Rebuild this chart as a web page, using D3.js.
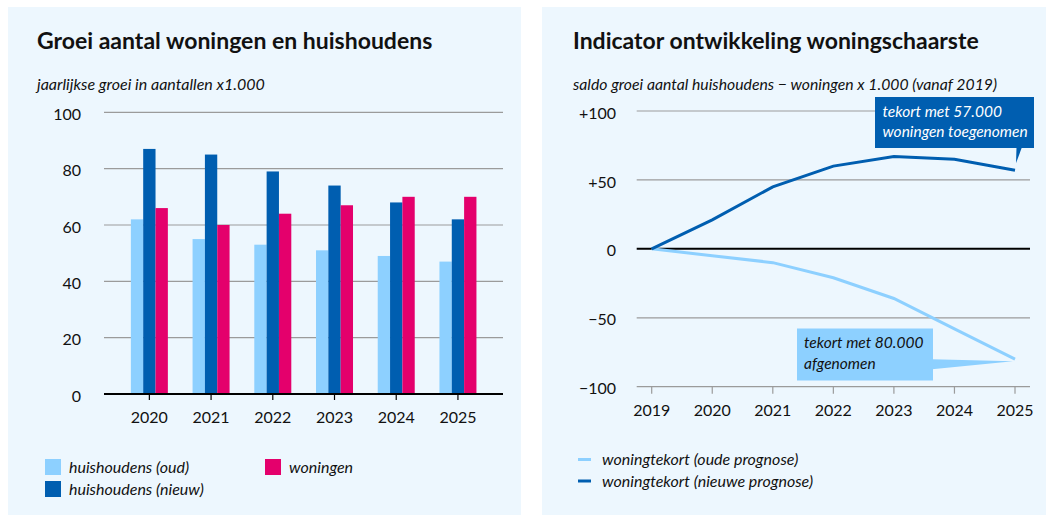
<!DOCTYPE html>
<html><head><meta charset="utf-8">
<script src="https://cdn.jsdelivr.net/npm/d3@7"></script>
<style>
body{margin:0;background:#fff}
text{font-family:Lato,'Open Sans',sans-serif;fill:#111}
</style>
</head><body>
<svg id="c" width="1046" height="515"></svg>
<script>
// ---- data: left chart ----
const years = ["2020","2021","2022","2023","2024","2025"];
const huishoudensOud = [62,55,53,51,49,47];
const huishoudensNieuw = [87,85,79,74,68,62];
const woningen = [66,60,64,67,70,70];
const barTicks = [0,20,40,60,80,100];
const barSeriesNames = ["huishoudens (oud)","huishoudens (nieuw)","woningen"];

// ---- data: right chart ----
const lineYears = ["2019","2020","2021","2022","2023","2024","2025"];
const tekortOud = [0,-5,-10,-21,-36,-58,-80];
const tekortNieuw = [0,21,45,60,67,65,57];
const lineTicks = [-100,-50,0,50,100];
const lineTickLabels = ["\u2212100","\u221250","0","+50","+100"];
const lineSeriesNames = ["woningtekort (oude prognose)","woningtekort (nieuwe prognose)"];

const C_LIGHT = "#8dd0ff", C_DARK = "#005eb0", C_PINK = "#e4006c", BG = "#edf7fe", GRID = "#9b9b9b";

const svg = d3.select("#c");
svg.append("rect").attr("x",8).attr("y",7).attr("width",513).attr("height",508).attr("fill",BG);
svg.append("rect").attr("x",542).attr("y",7).attr("width",504).attr("height",508).attr("fill",BG);

// ================= LEFT =================
const L = svg.append("g");
L.append("text").attr("x",37).attr("y",49).attr("font-size",23).attr("font-weight",700).text("Groei aantal woningen en huishoudens");
L.append("text").attr("x",37).attr("y",90).attr("font-size",16).attr("font-style","italic").text("jaarlijkse groei in aantallen x1.000");

const xB = d3.scaleBand().domain(years).range([118.5,488.8]);
const yB = d3.scaleLinear().domain([0,100]).range([394,112.3]);
const xS = d3.scaleBand().domain([0,1,2]).range([0,37]);
const series = [huishoudensOud, huishoudensNieuw, woningen];
const colors = [C_LIGHT, C_DARK, C_PINK];

// grid
L.append("g").selectAll("line").data(barTicks.filter(d=>d!==0)).join("line")
  .attr("x1",104).attr("x2",503).attr("y1",d=>yB(d)).attr("y2",d=>yB(d))
  .attr("stroke",GRID).attr("stroke-width",1.2);
L.append("g").selectAll("text").data(barTicks).join("text")
  .attr("x",81).attr("y",d=>yB(d)+2).attr("dy","0.35em").attr("text-anchor","end")
  .attr("font-size",16).text(d=>d);

// bars
series.forEach((vals,si)=>{
  L.append("g").selectAll("rect").data(vals).join("rect")
    .attr("x",(d,i)=>xB(years[i])+xB.bandwidth()/2-18.5+xS(si))
    .attr("width",xS.bandwidth())
    .attr("y",d=>yB(d)).attr("height",d=>yB(0)-yB(d))
    .attr("fill",colors[si]);
});
// zero axis
L.append("line").attr("x1",104).attr("x2",503).attr("y1",yB(0)).attr("y2",yB(0)).attr("stroke","#000").attr("stroke-width",2);
L.append("g").selectAll("line").data(years).join("line")
  .attr("x1",d=>xB(d)+xB.bandwidth()/2).attr("x2",d=>xB(d)+xB.bandwidth()/2)
  .attr("y1",yB(0)).attr("y2",yB(0)+6).attr("stroke","#000").attr("stroke-width",1.2);
L.append("g").selectAll("text").data(years).join("text")
  .attr("x",d=>xB(d)+xB.bandwidth()/2).attr("y",417).attr("dy","0.35em").attr("text-anchor","middle")
  .attr("font-size",16).text(d=>d);

// legend
const legPos = [[45,459],[45,481],[265,459]];
barSeriesNames.forEach((n,i)=>{
  L.append("rect").attr("x",legPos[i][0]).attr("y",legPos[i][1]).attr("width",16).attr("height",16).attr("fill",colors[i]);
  L.append("text").attr("x",legPos[i][0]+24).attr("y",legPos[i][1]+8).attr("dy","0.35em")
    .attr("font-size",16).attr("font-style","italic").text(n);
});

// ================= RIGHT =================
const R = svg.append("g");
R.append("text").attr("x",573).attr("y",49).attr("font-size",23).attr("font-weight",700).text("Indicator ontwikkeling woningschaarste");
R.append("text").attr("x",573).attr("y",90).attr("font-size",16).attr("font-style","italic").attr("textLength",424).attr("lengthAdjust","spacingAndGlyphs").text("saldo groei aantal huishoudens \u2212 woningen x 1.000 (vanaf 2019)");

const xL = d3.scalePoint().domain(lineYears).range([651.7,1015]);
const yL = d3.scaleLinear().domain([-100,100]).range([386.7,111]);

R.append("g").selectAll("line").data(lineTicks.filter(d=>d!==0)).join("line")
  .attr("x1",636.7).attr("x2",1030).attr("y1",d=>yL(d)).attr("y2",d=>yL(d))
  .attr("stroke",GRID).attr("stroke-width",1.2);
R.append("g").selectAll("text").data(lineTicks).join("text")
  .attr("x",616).attr("y",d=>yL(d)+2).attr("dy","0.35em").attr("text-anchor","end")
  .attr("font-size",16).text((d,i)=>lineTickLabels[i]);
R.append("g").selectAll("line").data(lineYears).join("line")
  .attr("x1",d=>xL(d)).attr("x2",d=>xL(d)).attr("y1",yL(-100)).attr("y2",yL(-100)+7)
  .attr("stroke",GRID).attr("stroke-width",1.2);
R.append("g").selectAll("text").data(lineYears).join("text")
  .attr("x",d=>xL(d)).attr("y",410).attr("dy","0.35em").attr("text-anchor","middle")
  .attr("font-size",16).text(d=>d);
R.append("line").attr("x1",636.7).attr("x2",1030).attr("y1",yL(0)).attr("y2",yL(0)).attr("stroke","#000").attr("stroke-width",2);

const line = d3.line().x((d,i)=>xL(lineYears[i])).y(d=>yL(d));
R.append("path").datum(tekortOud).attr("d",line).attr("fill","none").attr("stroke",C_LIGHT).attr("stroke-width",3);
R.append("path").datum(tekortNieuw).attr("d",line).attr("fill","none").attr("stroke",C_DARK).attr("stroke-width",3);

// annotation boxes
const endX = xL("2025");
R.append("rect").attr("x",875).attr("y",97).attr("width",159).attr("height",51).attr("fill",C_DARK);
R.append("path").attr("d",`M${endX+1.5},147 L${endX+7},147 L${endX+1},${yL(tekortNieuw[6])-7} Z`).attr("fill",C_DARK);
R.append("text").attr("x",882.5).attr("y",117).attr("font-size",15.5).attr("font-style","italic").style("fill","#fff").text("tekort met 57.000");
R.append("text").attr("x",882.5).attr("y",137).attr("font-size",15.5).attr("font-style","italic").style("fill","#fff").text("woningen toegenomen");

R.append("rect").attr("x",797).attr("y",328.5).attr("width",136).attr("height",52).attr("fill",C_LIGHT);
R.append("path").attr("d",`M932,359.3 L932,369.3 L${endX-2},${yL(tekortOud[6])+2} Z`).attr("fill",C_LIGHT);
R.append("text").attr("x",804).attr("y",348).attr("font-size",15.5).attr("font-style","italic").text("tekort met 80.000");
R.append("text").attr("x",804).attr("y",369).attr("font-size",15.5).attr("font-style","italic").text("afgenomen");

// legend
const lcol = [C_LIGHT, C_DARK];
lineSeriesNames.forEach((n,i)=>{
  const y = 459.5 + i*21.5;
  R.append("line").attr("x1",578).attr("x2",591).attr("y1",y).attr("y2",y).attr("stroke",lcol[i]).attr("stroke-width",3);
  R.append("text").attr("x",602).attr("y",y).attr("dy","0.35em").attr("font-size",16).attr("font-style","italic").text(n);
});
</script>
</body></html>
